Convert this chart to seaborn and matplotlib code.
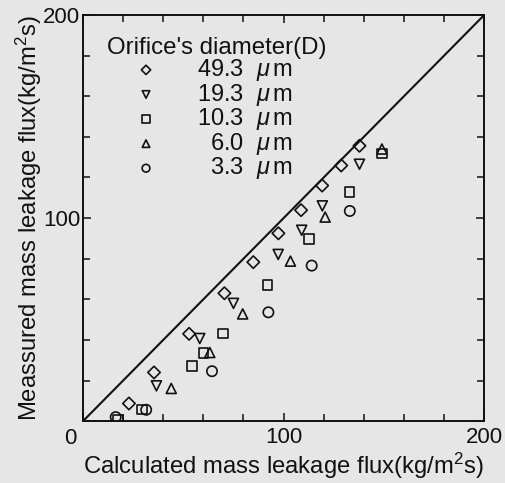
import matplotlib
matplotlib.use("Agg")
import matplotlib.pyplot as plt
from matplotlib.ticker import MultipleLocator
import seaborn as sns
import pandas as pd

# --- data (kg/m2s) ---
d49_x = [22.9, 35.4, 52.9, 70.5, 84.9, 97.4, 108.7, 119.2, 128.7, 137.8]
d49_y = [8.7, 24.0, 43.0, 63.0, 78.3, 92.5, 103.9, 116.0, 125.9, 135.6]

d19_x = [36.6, 58.2, 75.0, 97.3, 109.0, 119.3, 137.8]
d19_y = [17.4, 40.7, 58.0, 82.1, 94.0, 106.0, 126.5]

d10_x = [17.5, 29.5, 54.3, 60.0, 69.8, 92.0, 112.8, 132.8, 149.0]
d10_y = [0.5, 5.8, 27.1, 33.7, 43.2, 67.2, 89.8, 112.8, 131.8]

d6_x = [44.0, 63.2, 79.6, 103.4, 120.7, 149.0]
d6_y = [16.1, 33.8, 52.8, 78.8, 100.5, 134.0]

d3_x = [16.3, 31.5, 64.3, 92.4, 114.0, 133.0]
d3_y = [2.0, 5.6, 24.6, 53.6, 76.6, 103.5]

labels = ["49.3", "19.3", "10.3", "  6.0", "  3.3"]
markers = ["D", "v", "s", "^", "o"]
sizes = [40, 52, 48, 52, 55]
series = [(d49_x, d49_y), (d19_x, d19_y), (d10_x, d10_y), (d6_x, d6_y), (d3_x, d3_y)]

BG = "#e6e6e6"
INK = "#111111"
sns.set_style("ticks")
plt.rcParams["font.family"] = ["Liberation Sans", "DejaVu Sans"]
plt.rcParams["mathtext.fontset"] = "custom"
plt.rcParams["mathtext.rm"] = "Liberation Sans"
plt.rcParams["mathtext.it"] = "Liberation Sans:italic"
plt.rcParams["font.size"] = 16

fig = plt.figure(figsize=(5.06, 4.83), dpi=100, facecolor=BG)
ax = fig.add_axes([0.164, 0.128, 0.793, 0.841])
ax.set_facecolor(BG)

# 1:1 line
ax.plot([0, 200], [0, 200], color=INK, lw=1.5, zorder=1)

for (xs, ys), lab, mk, sz in zip(series, labels, markers, sizes):
    df = pd.DataFrame({"calc": xs, "meas": ys})
    sns.scatterplot(data=df, x="calc", y="meas", ax=ax, marker=mk, s=sz,
                    facecolor="none", edgecolor=INK, linewidth=1.2,
                    label=lab + r"  $\mu\,$m", zorder=3)

ax.set_xlim(0, 200)
ax.set_ylim(0, 200)
ax.xaxis.set_minor_locator(MultipleLocator(20))
ax.yaxis.set_minor_locator(MultipleLocator(20))
ax.tick_params(which="both", direction="in", top=True, right=True,
               width=1.1, color=INK, labelsize=16, labelcolor=INK)
ax.tick_params(which="major", length=6)
ax.tick_params(which="minor", length=5)
ax.set_xticks([100, 200])
ax.set_yticks([100, 200])
ax.set_xticklabels(["100", "200"])
ax.set_yticklabels(["100", "200"])
ax.tick_params(axis="x", pad=4)
ax.tick_params(axis="y", pad=2)
# shared corner zero
ax.annotate("0", xy=(0, 0), xycoords="axes fraction", xytext=(-5, -5),
            textcoords="offset points", ha="right", va="top", fontsize=16,
            color=INK)

for sp in ax.spines.values():
    sp.set_linewidth(1.4)
    sp.set_color(INK)

ax.set_xlabel(r"Calculated mass leakage flux(kg/m$^2$s)", fontsize=17.2,
              color=INK, labelpad=2)
ax.set_ylabel(r"Meassured mass leakage flux(kg/m$^2$s)", fontsize=17.2,
              color=INK, labelpad=-1)

leg = ax.legend(title="Orifice's diameter(D)", loc="upper left",
                bbox_to_anchor=(0.06, 0.947), frameon=False, fontsize=17,
                title_fontsize=17.3, alignment="left", handlelength=3.3,
                handletextpad=0.5, labelspacing=-0.06, borderpad=0,
                borderaxespad=0, markerscale=0.75)
for t in leg.get_texts():
    t.set_color(INK)
leg.get_title().set_color(INK)

fig.savefig("out.png", dpi=100, facecolor=BG)
